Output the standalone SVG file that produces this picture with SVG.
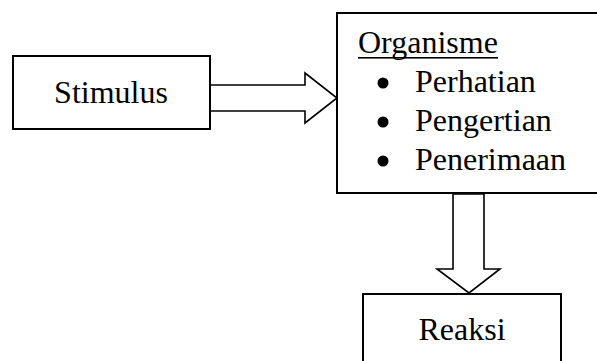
<svg xmlns="http://www.w3.org/2000/svg" width="597" height="361" viewBox="0 0 597 361">
<style>
.box{fill:#fff;stroke:#000;stroke-width:2}
.arr{fill:#fff;stroke:#000;stroke-width:1.6;stroke-linejoin:miter}
.t{font-family:'Liberation Serif','Times New Roman',serif;font-size:32px;fill:#000}
</style>
<rect width="597" height="361" fill="#fff"/>
<g id="connectors">
<polygon class="arr" points="210,85 305,85 305,73 337,98 305,123 305,111 210,111"/>
<polygon class="arr" points="453,194 484,194 484,269 500,269 469,293 437,269 453,269"/>
</g>
<g id="stimulus">
<rect class="box" x="13" y="56" width="197" height="73"/>
<text class="t" x="111" y="103" text-anchor="middle">Stimulus</text>
</g>
<g id="organisme">
<rect class="box" x="337" y="13" width="270" height="180"/>
<text class="t" x="358" y="53">Organisme</text>
<rect x="358" y="57" width="140" height="1.6" fill="#000"/>
<circle cx="383" cy="83" r="5.5" fill="#000"/>
<text class="t" x="415" y="92">Perhatian</text>
<circle cx="383" cy="122" r="5.5" fill="#000"/>
<text class="t" x="415" y="131">Pengertian</text>
<circle cx="383" cy="161" r="5.5" fill="#000"/>
<text class="t" x="415" y="170">Penerimaan</text>
</g>
<g id="reaksi">
<rect class="box" x="363" y="294" width="198" height="80"/>
<text class="t" x="462" y="340" text-anchor="middle">Reaksi</text>
</g>
</svg>
